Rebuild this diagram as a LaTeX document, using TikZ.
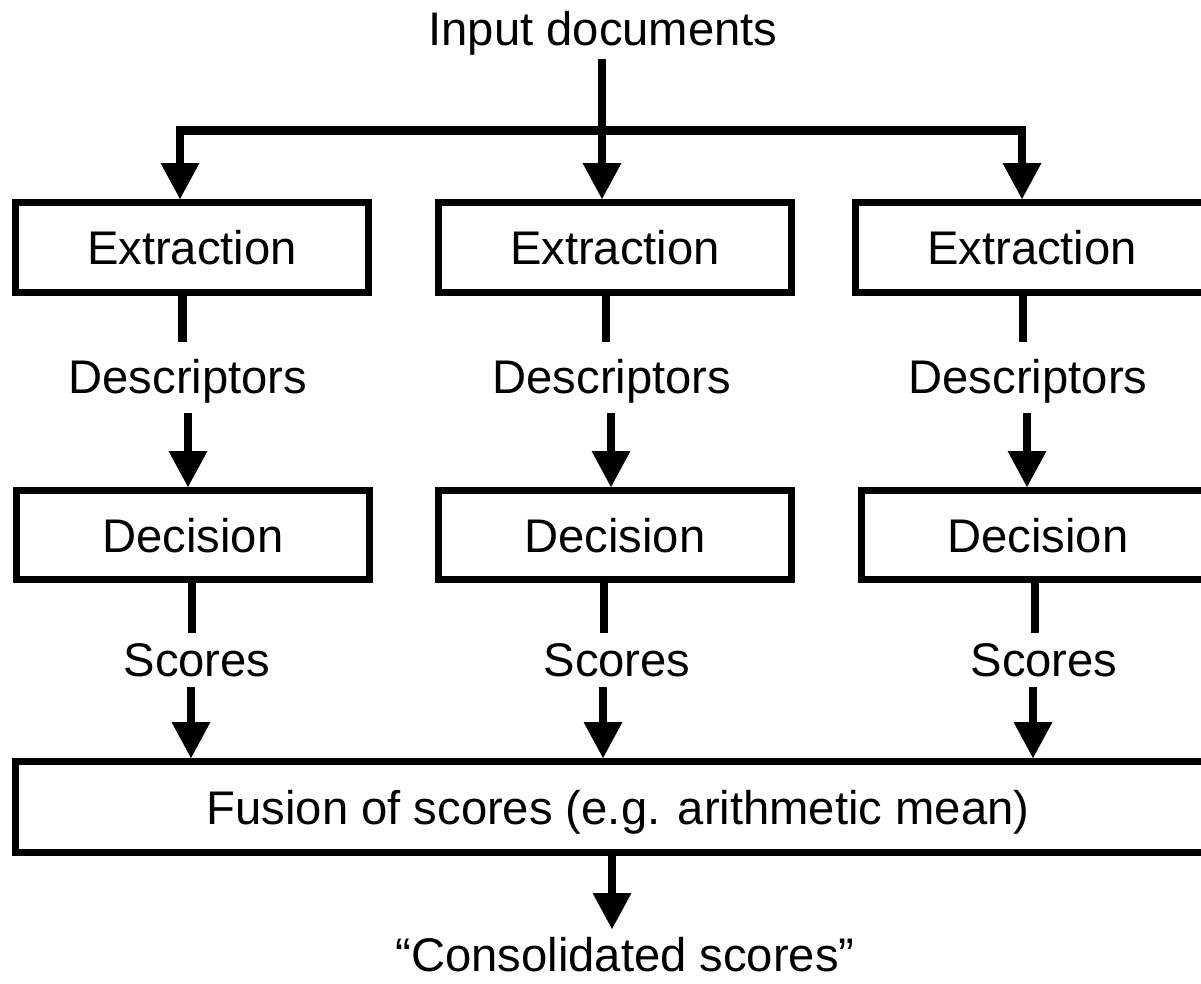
\documentclass[tikz,border=0pt]{standalone}
\usepackage{fontspec}
\setmainfont{Liberation Sans}
\usetikzlibrary{arrows.meta}
\begin{document}
\begin{tikzpicture}[x=1pt,y=-1pt,
  every node/.style={font=\fontsize{47.2}{50}\selectfont, inner sep=0pt},
  lbl/.style={anchor=base},
  boxnode/.style={draw=black, line width=7pt, minimum width=353pt, minimum height=90pt, text height=34pt, text depth=0pt},
  ln/.style={line width=8.5pt, line join=miter},
  arr/.style={ln, -{Triangle[width=39pt,length=36pt,line width=0pt]}}]
\useasboundingbox (0,0) rectangle (1201,983);
\clip (0,0) rectangle (1201,983);
\fill[white] (0,0) rectangle (1201,983);

% text labels
\node[lbl] (in) at (603,45) {Input documents};
\node[lbl] (d1) at (188,393) {Descriptors};
\node[lbl] (d2) at (612,393) {Descriptors};
\node[lbl] (d3) at (1028,393) {Descriptors};
\node[lbl] (s1) at (197,676) {Scores};
\node[lbl] (s2) at (617,676) {Scores};
\node[lbl] (s3) at (1044,676) {Scores};
\node[lbl] (out) at (625,971) {“Consolidated scores”};

% boxes
\node[boxnode] (ex1) at (192,247.5) {Extraction};
\node[boxnode] (ex2) at (615,247.5) {Extraction};
\node[boxnode] (ex3) at (1032,247.5) {Extraction};
\node[boxnode, minimum height=89pt] (de1) at (193,535) {Decision};
\node[boxnode, minimum height=89pt] (de2) at (615,535) {Decision};
\node[boxnode, minimum height=89pt] (de3) at (1038,535) {Decision};
\node[boxnode, minimum width=1205pt, minimum height=91pt] (fu) at (618,807) {Fusion of scores (e.g. arithmetic mean)};

% coordinates for free ends
\coordinate (t0) at (602,59);
\coordinate (bL) at (180,130.5);
\coordinate (bR) at (1022,130.5);
\coordinate (a1) at (182.5,342);
\coordinate (a2) at (606,342);
\coordinate (a3) at (1023,342);
\coordinate (b1) at (188,413);
\coordinate (b2) at (611,413);
\coordinate (b3) at (1027,413);
\coordinate (c1) at (192,633);
\coordinate (c2) at (604,633);
\coordinate (c3) at (1035,633);
\coordinate (e1) at (191,687);
\coordinate (e2) at (603,687);
\coordinate (e3) at (1033,687);
\coordinate (f0) at (612,929);

% distribution
\draw[arr] (t0) -- (t0 |- ex2.north);
\draw[arr] (bR) -- (bL) -- (bL |- ex1.north);
\draw[arr] (bL) -- (bR) -- (bR |- ex3.north);

% extraction -> descriptors
\draw[ln] (ex1.south -| a1) -- (a1);
\draw[ln] (ex2.south -| a2) -- (a2);
\draw[ln] (ex3.south -| a3) -- (a3);
\draw[arr] (b1) -- (b1 |- de1.north);
\draw[arr] (b2) -- (b2 |- de2.north);
\draw[arr] (b3) -- (b3 |- de3.north);

% decision -> scores
\draw[ln] (de1.south -| c1) -- (c1);
\draw[ln] (de2.south -| c2) -- (c2);
\draw[ln] (de3.south -| c3) -- (c3);
\draw[arr] (e1) -- (e1 |- fu.north);
\draw[arr] (e2) -- (e2 |- fu.north);
\draw[arr] (e3) -- (e3 |- fu.north);

% fusion -> output
\draw[arr] (fu.south -| f0) -- (f0);
\end{tikzpicture}
\end{document}
